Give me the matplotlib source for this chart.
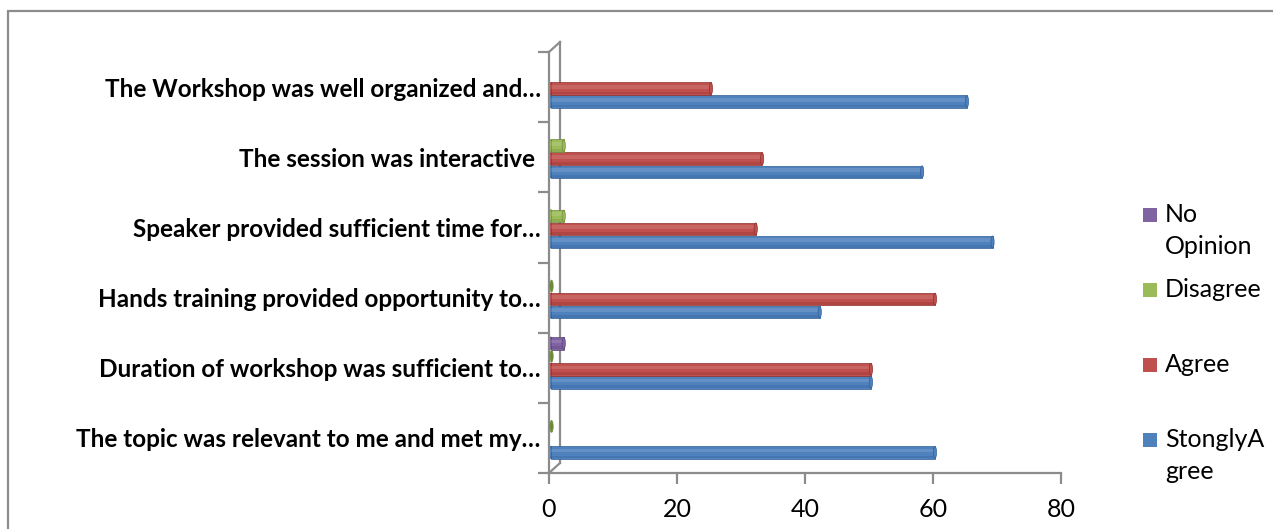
import numpy as np
import matplotlib
matplotlib.use("Agg")
import matplotlib.pyplot as plt
from matplotlib.patches import Rectangle, Ellipse
from matplotlib.transforms import ScaledTranslation

# ---------------- data ----------------
categories = [
    "The topic was relevant to me and met my\u2026",
    "Duration of workshop was sufficient to\u2026",
    "Hands training provided opportunity to\u2026",
    "Speaker provided sufficient time for\u2026",
    "The session was interactive ",
    "The Workshop was well organized and\u2026",
]
strongly_agree = [60, 50, 42, 69, 58, 65]
agree = [np.nan, 50, 60, 32, 33, 25]
disagree = [0, 0, 0, 2, 2, np.nan]
no_opinion = [np.nan, 2, np.nan, np.nan, np.nan, np.nan]

series_names = ["StonglyA\ngree", "Agree", "Disagree", "No\nOpinion"]
series_values = [strongly_agree, agree, disagree, no_opinion]
series_colors = ["#4F81BD", "#C0504D", "#9BBB59", "#8064A2"]
series_dark = ["#2F5F98", "#8E302E", "#6E8A3A", "#5B4479"]

xticks = [0, 20, 40, 60, 80]

# ---------------- figure ----------------
plt.rcParams['font.family'] = ['Lato', 'DejaVu Sans']
W, H = 1273, 529
fig = plt.figure(figsize=(W / 100, H / 100), dpi=100)

# outer chart border
fig.patches.append(Rectangle((8 / W, -0.1), 1.2, (H - 11) / H + 0.1,
                             transform=fig.transFigure, fill=False,
                             edgecolor="#8C8C8C", linewidth=1.6))

left, right = 549 / W, 1061 / W
top, bottom = 1 - 52 / H, 1 - 473 / H
ax = fig.add_axes([left, bottom, right - left, top - bottom])
ax.set_xlim(0, 80)
ax.set_ylim(-0.5, len(categories) - 0.5)
ax.patch.set_alpha(0)

band_px = (473 - 52) / len(categories)
shift = 5 / band_px          # bars sit half-way into the 3D depth
step = 13 / band_px
bar_h = 12.5 / band_px
offsets = [-1.5 * step + shift, -0.5 * step + shift, 0.5 * step + shift, 1.5 * step + shift]
cap_w = 0.5  # data units for the cylinder end cap

y = np.arange(len(categories))
for vals, off, col, dark in zip(series_values, offsets, series_colors, series_dark):
    for yi, v in zip(y, vals):
        if np.isnan(v):
            continue
        yc = yi + off
        if v > 0:
            ax.barh(yc, v, height=bar_h, left=0.3, color=col, edgecolor=dark,
                    linewidth=0.5, zorder=3)
            # highlight stripe
            ax.barh(yc + bar_h * 0.15, v, height=bar_h * 0.3, left=0.3,
                    color="white", alpha=0.12, linewidth=0, zorder=4)
            # shadow stripe
            ax.barh(yc - bar_h * 0.36, v, height=bar_h * 0.22, left=0.3,
                    color=dark, alpha=0.3, linewidth=0, zorder=4)
            ax.add_patch(Ellipse((0.3, yc), cap_w, bar_h, facecolor=col,
                                 edgecolor=dark, linewidth=0.5, zorder=2))
        ax.add_patch(Ellipse((v + 0.3 if v > 0 else 0.4, yc), cap_w, bar_h * 0.95,
                             facecolor=col if v > 0 else "#6E8A3A",
                             edgecolor=dark, linewidth=0.5, zorder=5))

# axes styling
for s in ["top", "right"]:
    ax.spines[s].set_visible(False)
for s in ["left", "bottom"]:
    ax.spines[s].set_color("#8C8C8C")
    ax.spines[s].set_linewidth(1.6)

ax.set_xticks(xticks)
ax.set_xticklabels([str(t) for t in xticks], fontsize=18)
ax.tick_params(axis="x", direction="out", length=8, width=1.6, color="#8C8C8C", pad=10)

ax.set_yticks(np.arange(-0.5, len(categories), 1.0))
ax.set_yticklabels([])
ax.set_yticks(y, minor=True)
ax.set_yticklabels(categories, minor=True, fontsize=17.5, fontweight="bold")
ax.tick_params(axis="y", which="major", direction="out", length=8, width=1.6, color="#8C8C8C")
ax.tick_params(axis="y", which="minor", length=0, pad=6)

# 3D back wall lines
off_tr = ScaledTranslation(11 / 100, 10 / 100, fig.dpi_scale_trans)
ax.plot([0, 0], [-0.5, len(categories) - 0.5], color="#8C8C8C", lw=1.6,
        transform=ax.transData + off_tr, clip_on=False, zorder=1)
for yy in [-0.5, len(categories) - 0.5]:
    x0, y0 = ax.transData.transform((0, yy))
    ax.plot([x0, x0 + 11], [y0, y0 + 10], color="#8C8C8C", lw=1.6,
            transform=None, clip_on=False, zorder=1)

# legend (manual placement, first-line baselines)
legend_baselines = [222, 297, 372, 447]
line_gap = 32
for name, col, by in zip(series_names[::-1], series_colors[::-1], legend_baselines):
    fig.patches.append(Rectangle((1143 / W, 1 - by / H), 14 / W, 14 / H,
                                 transform=fig.transFigure, facecolor=col,
                                 edgecolor="none"))
    for i, line in enumerate(name.split("\n")):
        fig.text(1165 / W, 1 - (by + i * line_gap) / H, line, fontsize=18,
                 va="baseline", ha="left")

fig.savefig("out.png", dpi=100)
